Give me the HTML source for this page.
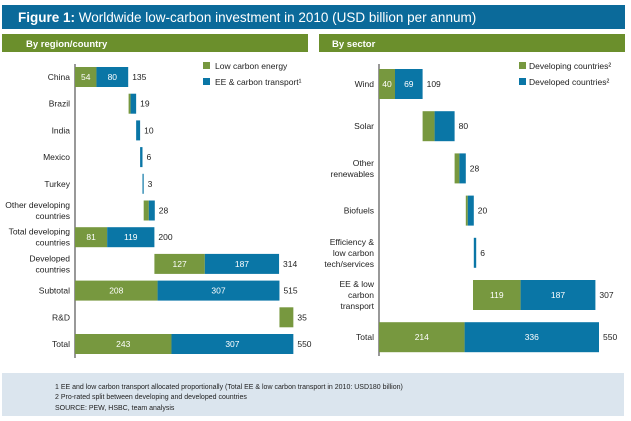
<!DOCTYPE html>
<html><head><meta charset="utf-8"><style>
html,body{margin:0;padding:0;background:#fff;}
svg{display:block;font-family:"Liberation Sans",sans-serif;}
</style></head><body>
<svg id="c" width="631" height="421" xmlns="http://www.w3.org/2000/svg">
<rect x="2" y="5" width="623" height="24" fill="#0b6a9a"/>
<text x="18" y="22" fill="#fff" font-size="13.5"><tspan font-weight="bold">Figure 1:</tspan> Worldwide low-carbon investment in 2010 (USD billion per annum)</text>
<rect x="2" y="34" width="306" height="18" fill="#6b8f2c"/>
<text x="26" y="47" fill="#fff" font-size="9.5" font-weight="bold">By region/country</text>
<rect x="319" y="34" width="306" height="18" fill="#6b8f2c"/>
<text x="332" y="47" fill="#fff" font-size="9.5" font-weight="bold">By sector</text>
<line x1="75" y1="64" x2="75" y2="358" stroke="#555" stroke-width="1.2"/>
<line x1="379" y1="64" x2="379" y2="356" stroke="#555" stroke-width="1.2"/>
<g id="left"></g><g id="right"></g>
<rect x="203" y="62" width="7" height="7" fill="#77983f"/>
<text x="215" y="69" font-size="8.5" fill="#222">Low carbon energy</text>
<rect x="203" y="78" width="7" height="7" fill="#0a76a6"/>
<text x="215" y="85" font-size="8.5" fill="#222">EE &amp; carbon transport¹</text>
<rect x="519" y="62" width="7" height="7" fill="#77983f"/>
<text x="529" y="69" font-size="8.5" fill="#222">Developing countries²</text>
<rect x="519" y="78" width="7" height="7" fill="#0a76a6"/>
<text x="529" y="85" font-size="8.5" fill="#222">Developed countries²</text>
<rect x="2" y="373" width="622" height="43" fill="#dbe5ee"/>
<text x="55" y="389" font-size="7" fill="#222">1 EE and low carbon transport allocated proportionally (Total EE &amp; low carbon transport in 2010: USD180 billion)</text>
<text x="55" y="399" font-size="7" fill="#222">2 Pro-rated split between developing and developed countries</text>
<text x="55" y="410" font-size="7" fill="#222">SOURCE: PEW, HSBC, team analysis</text>
</svg>
<script>
const leftCats=[["China"],["Brazil"],["India"],["Mexico"],["Turkey"],["Other developing","countries"],["Total developing","countries"],["Developed","countries"],["Subtotal"],["R&D"],["Total"]];
const leftStart=[0,135,154,164,170,173,0,200,0,515,0];
const leftGreen=[54,5,0,0,0,13,81,127,208,35,243];
const leftBlue=[80,14,10,6,3,15,119,187,307,0,307];
const leftTotal=[135,19,10,6,3,28,200,314,515,35,550];
const leftShowInner=[true,false,false,false,false,false,true,true,true,false,true];
const rightCats=[["Wind"],["Solar"],["Other","renewables"],["Biofuels"],["Efficiency &","low carbon","tech/services"],["EE & low","carbon","transport"],["Total"]];
const rightStart=[0,109,189,217,237,235,0];
const rightGreen=[40,30,12,5,0,119,214];
const rightBlue=[69,50,16,15,6,187,336];
const rightTotal=[109,80,28,20,6,307,550];
const rightShowInner=[true,false,false,false,false,true,true];
const NS="http://www.w3.org/2000/svg";
function mk(tag,attrs,parent){const e=document.createElementNS(NS,tag);for(const k in attrs)e.setAttribute(k,attrs[k]);parent.appendChild(e);return e;}
function draw(gid,x0,scale,yTop,step,bh,cats,start,green,blue,total,inner,prefix){
  const g=document.getElementById(gid);
  const xs=v=>x0+v*scale;
  cats.forEach((lines,i)=>{
    const cy=yTop+i*step;
    const lh=11;const y0=cy-(lines.length-1)*lh/2+3;
    lines.forEach((l,j)=>{const t=mk('text',{x:x0-5,y:y0+j*lh,'text-anchor':'end','font-size':8.5,fill:'#222'},g);
      
      
      t.textContent=l;});
    const a=xs(start[i]),b=xs(start[i]+green[i]),c=xs(start[i]+green[i]+blue[i]);
    if(green[i]>0){const r=mk('rect',{x:a,y:cy-bh/2,width:b-a,height:bh,fill:'#77983f'},g);
      
      
      if(inner[i]){const t=mk('text',{x:(a+b)/2,y:cy+3,'text-anchor':'middle','font-size':8.5,fill:'#fff'},g);
        
        
        t.textContent=green[i];}}
    if(blue[i]>0){const r=mk('rect',{x:b,y:cy-bh/2,width:c-b,height:bh,fill:'#0a76a6'},g);
      
      
      if(inner[i]){const t=mk('text',{x:(b+c)/2,y:cy+3,'text-anchor':'middle','font-size':8.5,fill:'#fff'},g);
        
        
        t.textContent=blue[i];}}
    const t=mk('text',{x:c+4,y:cy+3,'font-size':8.5,fill:'#222'},g);
    
    
    t.textContent=total[i];
  });
}
draw('left',75,0.397,77,26.7,20,leftCats,leftStart,leftGreen,leftBlue,leftTotal,leftShowInner,'region');
draw('right',379,0.4,84,42.2,30,rightCats,rightStart,rightGreen,rightBlue,rightTotal,rightShowInner,'sector');
</script>
</body></html>
